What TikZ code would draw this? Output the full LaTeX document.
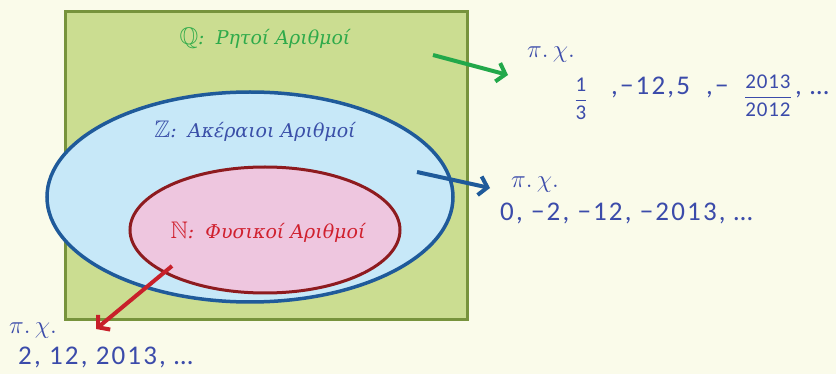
\documentclass[tikz,border=0pt]{standalone}
\usepackage{amssymb}
\usepackage{fontspec}
\setmainfont{Carlito}
\newfontfamily\grkfont{DejaVu Serif}
\usetikzlibrary{shapes.geometric,arrows.meta}
\definecolor{bgc}{HTML}{FAFBEA}
\definecolor{rectfill}{HTML}{CBDD91}
\definecolor{rectdraw}{HTML}{77933C}
\definecolor{bluefill}{HTML}{C7E8F8}
\definecolor{bluedraw}{HTML}{1F5A9A}
\definecolor{redfill}{HTML}{EEC6DF}
\definecolor{reddraw}{HTML}{8E1B1F}
\definecolor{qgreen}{HTML}{2EAA4A}
\definecolor{garrow}{HTML}{22A84A}
\definecolor{zblue}{HTML}{3A4FA8}
\definecolor{txtblue}{HTML}{3B4BAA}
\definecolor{nred}{HTML}{D0202E}
\definecolor{rarrow}{HTML}{C8202A}
\tikzset{
  setlabel/.style={font=\grkfont\itshape\fontsize{19}{22}\selectfont, inner sep=0pt},
  extxt/.style={font=\addfontfeature{LetterSpace=8}\fontsize{27}{30}\selectfont, text=txtblue, inner sep=0pt, anchor=base west},
  pxtxt/.style={font=\fontsize{29}{32}\selectfont, text=txtblue, inner sep=0pt, anchor=base west},
  fractxt/.style={font=\addfontfeature{LetterSpace=4}\fontsize{21}{21}\selectfont, text=txtblue, inner sep=0pt},
  arr/.style={line width=4pt, -{Straight Barb[length=8pt,width=19pt,line width=4pt]}}
}
\newcommand{\pxch}{$\pi.\,\chi.$}
\newcommand{\sfr}[2]{$\displaystyle\frac{\hbox{#1}}{\hbox{#2}}$}
\newcommand{\bbsym}[1]{{\fontsize{24}{24}\selectfont$\mathbb{#1}$}}
\begin{document}
\begin{tikzpicture}[x=1pt,y=-1pt]
\useasboundingbox (0,0) rectangle (836,374);
\fill[bgc] (0,0) rectangle (836,374);
\node[draw=rectdraw, line width=3pt, fill=rectfill, minimum width=402pt, minimum height=308pt, inner sep=0pt] (Qbox) at (266,166) {};
\node[ellipse, draw=bluedraw, line width=3.5pt, fill=bluefill, minimum width=406pt, minimum height=210pt, inner sep=0pt] (Zell) at (250,197) {};
\node[ellipse, draw=reddraw, line width=3pt, fill=redfill, minimum width=270pt, minimum height=126pt, inner sep=0pt] (Nell) at (265,230) {};
\node[setlabel, text=qgreen] (Qlab) at (265,38) {\bbsym{Q}:\, Ρητοί Αριθμοί};
\node[setlabel, text=zblue] (Zlab) at (255,131) {\bbsym{Z}:\, Ακέραιοι Αριθμοί};
\node[setlabel, text=nred] (Nlab) at (268,232) {\bbsym{N}:\, Φυσικοί Αριθμοί};
% examples
\node[pxtxt] (Qpx) at (527,58) {\pxch};
\node[fractxt] (Qf1) at (581,99) {\sfr{1}{3}};
\node[extxt] (Qe1) at (611,95) {,−12,5};
\node[extxt] (Qe2) at (706,95) {,−};
\node[fractxt] (Qf2) at (768,96) {\sfr{2013}{2012}};
\node[extxt] (Qe3) at (795,95) {, …};
\node[pxtxt] (Zpx) at (511,188) {\pxch};
\node[extxt] (Zex) at (500,221) {0, −2, −12, −2013, …};
\node[pxtxt] (Npx) at (9,334) {\pxch};
\node[extxt] (Nex) at (18,364) {2, 12, 2013, …};
% arrows
\coordinate (qa) at (433,55);
\coordinate (qb) at (508,75);
\coordinate (za) at (417,172);
\coordinate (zb) at (490,188);
\coordinate (na) at (172,266);
\coordinate (nb) at (96,329);
\draw[arr, garrow] (qa) -- (qb);
\draw[arr, bluedraw] (za) -- (zb);
\draw[arr, rarrow] (na) -- (nb);
\end{tikzpicture}
\end{document}
